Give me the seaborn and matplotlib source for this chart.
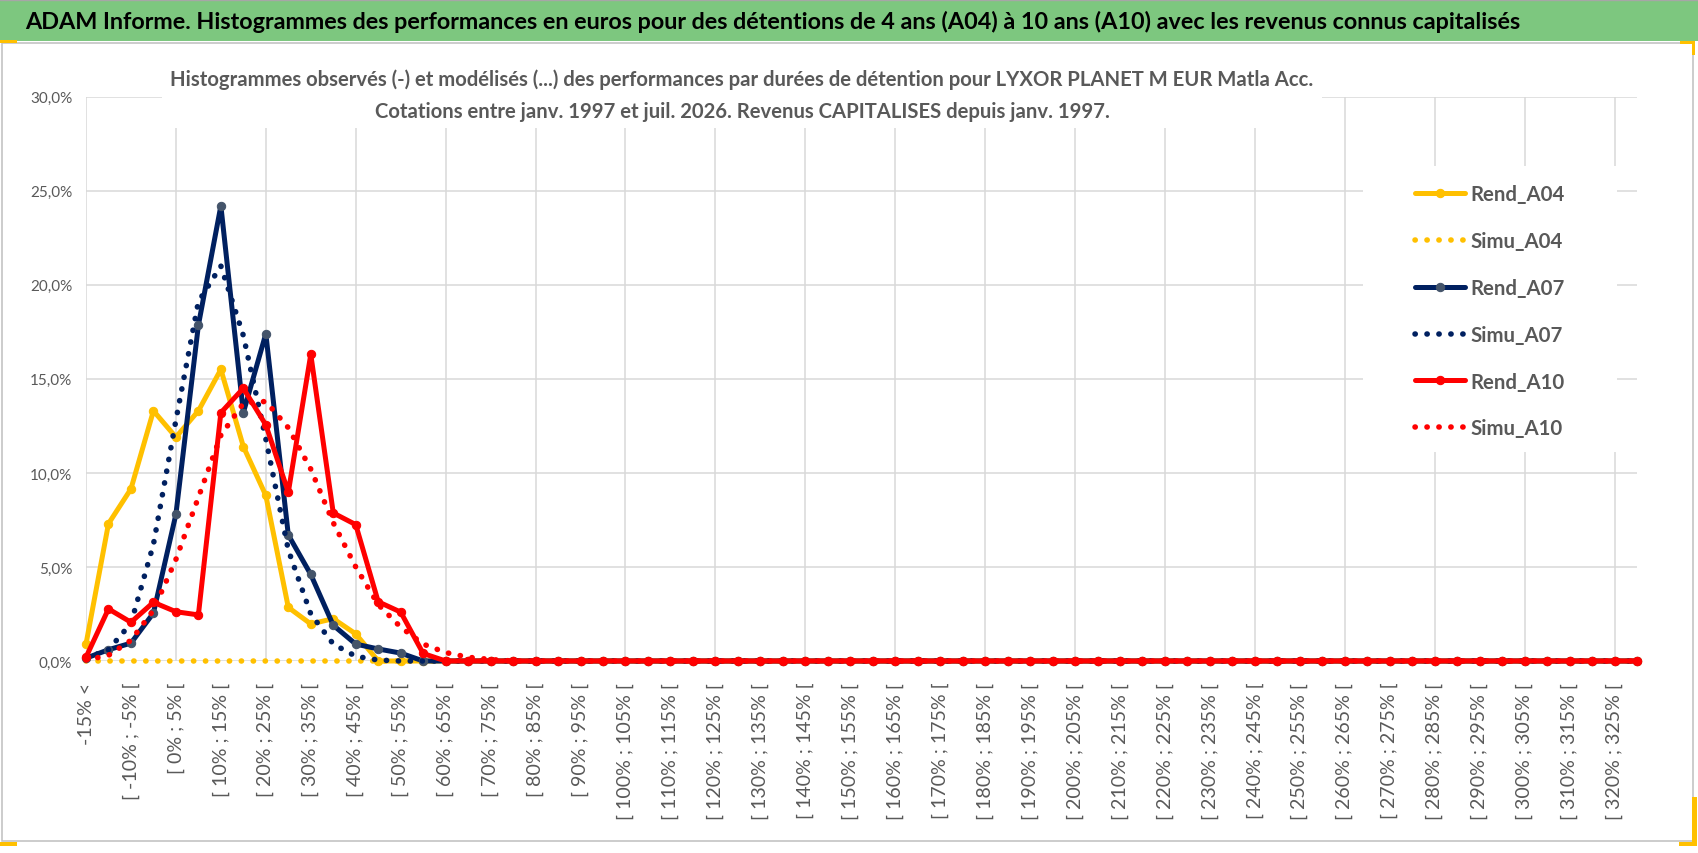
import pandas as pd
import matplotlib
matplotlib.use("Agg")
import matplotlib.pyplot as plt
from matplotlib import font_manager as fm
from matplotlib.patches import Rectangle
from matplotlib.lines import Line2D
import seaborn as sns

# %% donnees (en %)
bin_lows = list(range(-15, 330, 5))
categories = ["-15% <"] + ["[ %d%% ; %d%% [" % (b, b + 5) for b in bin_lows]

rend_a04 = [0.9, 7.3, 9.15, 13.3, 11.9, 13.3, 15.5, 11.4, 8.8, 2.85,
            1.97, 2.25, 1.44, 0, 0, 0, 0, 0, 0, 0,
            0, 0, 0, 0, 0, 0, 0, 0, 0, 0,
            0, 0, 0, 0, 0, 0, 0, 0, 0, 0,
            0, 0, 0, 0, 0, 0, 0, 0, 0, 0,
            0, 0, 0, 0, 0, 0, 0, 0, 0, 0,
            0, 0, 0, 0, 0, 0, 0, 0, 0, 0]
simu_a04 = [0, 0, 0, 0, 0, 0, 0, 0, 0, 0,
            0, 0, 0, 0, 0, 0, 0, 0, 0, 0,
            0, 0, 0, 0, 0, 0, 0, 0, 0, 0,
            0, 0, 0, 0, 0, 0, 0, 0, 0, 0,
            0, 0, 0, 0, 0, 0, 0, 0, 0, 0,
            0, 0, 0, 0, 0, 0, 0, 0, 0, 0,
            0, 0, 0, 0, 0, 0, 0, 0, 0, 0]
rend_a07 = [0.15, 0.6, 0.95, 2.55, 7.8, 17.85, 24.2, 13.2, 17.4, 6.7,
            4.6, 1.9, 0.9, 0.64, 0.42, 0, 0, 0, 0, 0,
            0, 0, 0, 0, 0, 0, 0, 0, 0, 0,
            0, 0, 0, 0, 0, 0, 0, 0, 0, 0,
            0, 0, 0, 0, 0, 0, 0, 0, 0, 0,
            0, 0, 0, 0, 0, 0, 0, 0, 0, 0,
            0, 0, 0, 0, 0, 0, 0, 0, 0, 0]
simu_a07 = [0.15, 0.6, 2.0, 6.2, 12.8, 19.1, 21.0, 17.3, 11.8, 5.9,
            2.5, 0.9, 0.25, 0.05, 0, 0, 0, 0, 0, 0,
            0, 0, 0, 0, 0, 0, 0, 0, 0, 0,
            0, 0, 0, 0, 0, 0, 0, 0, 0, 0,
            0, 0, 0, 0, 0, 0, 0, 0, 0, 0,
            0, 0, 0, 0, 0, 0, 0, 0, 0, 0,
            0, 0, 0, 0, 0, 0, 0, 0, 0, 0]
rend_a10 = [0.2, 2.77, 2.06, 3.12, 2.62, 2.45, 13.2, 14.5, 12.55, 8.97,
            16.3, 7.87, 7.25, 3.15, 2.6, 0.4, 0, 0, 0, 0,
            0, 0, 0, 0, 0, 0, 0, 0, 0, 0,
            0, 0, 0, 0, 0, 0, 0, 0, 0, 0,
            0, 0, 0, 0, 0, 0, 0, 0, 0, 0,
            0, 0, 0, 0, 0, 0, 0, 0, 0, 0,
            0, 0, 0, 0, 0, 0, 0, 0, 0, 0]
simu_a10 = [0.05, 0.3, 1.1, 2.7, 5.4, 8.7, 12.0, 13.7, 13.8, 12.4,
            10.2, 7.35, 5.0, 3.0, 1.8, 0.9, 0.45, 0.2, 0.08, 0,
            0, 0, 0, 0, 0, 0, 0, 0, 0, 0,
            0, 0, 0, 0, 0, 0, 0, 0, 0, 0,
            0, 0, 0, 0, 0, 0, 0, 0, 0, 0,
            0, 0, 0, 0, 0, 0, 0, 0, 0, 0,
            0, 0, 0, 0, 0, 0, 0, 0, 0, 0]

y_ticks = [0, 5, 10, 15, 20, 25, 30]
y_labels = ["0,0%", "5,0%", "10,0%", "15,0%", "20,0%", "25,0%", "30,0%"]

titre = ("ADAM Informe. Histogrammes des performances en euros pour des détentions "
         "de 4 ans (A04) à 10 ans (A10) avec les revenus connus capitalisés")
titre_l1 = ("Histogrammes observés (-) et modélisés (...) des performances par durées "
            "de détention pour LYXOR PLANET M EUR Matla Acc.")
titre_l2 = "Cotations entre janv. 1997 et juil. 2026. Revenus CAPITALISES depuis janv. 1997."

df = pd.DataFrame({
    "categorie": categories,
    "Rend_A04": rend_a04, "Simu_A04": simu_a04,
    "Rend_A07": rend_a07, "Simu_A07": simu_a07,
    "Rend_A10": rend_a10, "Simu_A10": simu_a10,
})
df["pos"] = range(len(df))

# %% style
YEL, NAVY, NAVY_MK, RED = "#FFC000", "#002060", "#44546A", "#FF0000"
GREY_TXT, GRID = "#595959", "#D9D9D9"
DOTS = (0, (0.05, 2.1))

styles = {
    "Rend_A04": dict(color=YEL, lw=3.6, marker="o", ms=6, mfc=YEL, mec=YEL),
    "Simu_A04": dict(color=YEL, lw=4.0, ls=DOTS, dash_capstyle="round"),
    "Rend_A07": dict(color=NAVY, lw=3.6, marker="o", ms=6, mfc=NAVY_MK, mec=NAVY_MK),
    "Simu_A07": dict(color=NAVY, lw=4.0, ls=DOTS, dash_capstyle="round"),
    "Rend_A10": dict(color=RED, lw=3.6, marker="o", ms=6, mfc=RED, mec=RED),
    "Simu_A10": dict(color=RED, lw=4.0, ls=DOTS, dash_capstyle="round"),
}

sns.set_style("white")
names = {f.name for f in fm.fontManager.ttflist}
FONT = "Lato" if "Lato" in names else "DejaVu Sans"
plt.rcParams["font.family"] = [FONT, "DejaVu Sans"]

W, H = 1698, 854
fig = plt.figure(figsize=(W / 100, H / 100), dpi=100)
rend = fig.canvas.get_renderer()


def fx(x):
    return x / W


def fy(y):
    return 1 - y / H


def fit(text, width_px, weight="normal"):
    t = fig.text(0, 0, text, fontsize=10, fontweight=weight)
    w = t.get_window_extent(renderer=rend).width
    t.remove()
    return 10 * width_px / w


ax = fig.add_axes([fx(86), fy(662), (1637 - 86) / W, (662 - 97.7) / H])

for name, st in styles.items():
    sns.lineplot(data=df, x="pos", y=name, ax=ax, label=name, errorbar=None,
                 sort=False, clip_on=False, **st)

ax.set_xlim(0, len(categories) - 1)
ax.set_ylim(0, 30)
ax.set_xlabel("")
ax.set_ylabel("")

fs_x = fit("[ 100% ; 105% [", 137)
ax.set_xticks(df["pos"][::2])
ax.set_xticklabels(df["categorie"][::2], rotation=90, fontsize=fs_x, color=GREY_TXT)
ax.set_xticks(df["pos"][::4], minor=True)
ax.xaxis.remove_overlapping_locs = False
fs_y = fit("30,0%", 42)
ax.set_yticks(y_ticks)
ax.set_yticklabels(y_labels, fontsize=fs_y, color=GREY_TXT)
ax.tick_params(axis="x", which="both", length=0, pad=15)
ax.tick_params(axis="y", length=0, pad=10)
ax.grid(axis="x", which="minor", color=GRID, lw=1.1)
ax.grid(axis="x", which="major", visible=False)
ax.grid(axis="y", which="major", color=GRID, lw=1.1)
ax.set_axisbelow(True)
for s in ax.spines.values():
    s.set_visible(False)
if ax.get_legend():
    ax.get_legend().remove()

# %% cadre, bandeau, titres
fig.add_artist(Rectangle((0, fy(42)), 1, fy(1) - fy(42), transform=fig.transFigure,
                         facecolor="#7DC77F", edgecolor="none", zorder=1))
fig.add_artist(Rectangle((fx(1.5), fy(842)), fx(1691), fy(44) - fy(842),
                         transform=fig.transFigure, facecolor="none",
                         edgecolor="#BFBFBF", lw=1.1, zorder=1))
fig.add_artist(Line2D([0, 1], [fy(0.8), fy(0.8)], transform=fig.transFigure,
                      color="#A6A6A6", lw=1, zorder=1))
for (x0, y0, x1, y1) in [(0, 41, 17, 44), (1680, 42, 1695, 45), (1692, 42, 1695, 56),
                         (0, 843, 17, 847), (1679, 843, 1697, 847), (1692, 798, 1697, 847)]:
    fig.add_artist(Rectangle((fx(x0), fy(y1)), fx(x1 - x0), fy(y0) - fy(y1),
                             transform=fig.transFigure, facecolor=YEL,
                             edgecolor="none", zorder=2))

# fond blanc du titre et de la legende
fig.add_artist(Rectangle((fx(162), fy(129)), fx(1322 - 162), fy(50) - fy(129),
                         transform=fig.transFigure, facecolor="white",
                         edgecolor="none", zorder=1))
fig.add_artist(Rectangle((fx(1363), fy(453)), fx(1617 - 1363), fy(167) - fy(453),
                         transform=fig.transFigure, facecolor="white",
                         edgecolor="none", zorder=1))

fs_t = fit(titre, 1502, "bold")
fig.text(fx(25), fy(22), titre, ha="left", va="center", fontsize=fs_t,
         fontweight="bold", color="black")
fs_t1 = fit(titre_l1, 1148, "bold")
fig.text(fx(742), fy(80), titre_l1, ha="center", va="center", fontsize=fs_t1,
         fontweight="bold", color=GREY_TXT)
fig.text(fx(742), fy(112), titre_l2, ha="center", va="center", fontsize=fs_t1,
         fontweight="bold", color=GREY_TXT)

# %% legende
handles, labels = ax.get_legend_handles_labels()
fs_l = fit("Rend_A04", 95, "bold")
fs_px = fs_l * 100 / 72
fig.legend(handles, labels, loc="upper left",
           bbox_to_anchor=(fx(1415), fy(197.7 - 0.62 * fs_px)),
           bbox_transform=fig.transFigure, frameon=False, borderpad=0,
           borderaxespad=0, handlelength=50 / fs_px, handletextpad=5 / fs_px,
           labelspacing=(47.3 - 1.0 * fs_px) / fs_px, labelcolor=GREY_TXT,
           prop=dict(weight="bold", size=fs_l))

fig.savefig("out.png", dpi=100)
